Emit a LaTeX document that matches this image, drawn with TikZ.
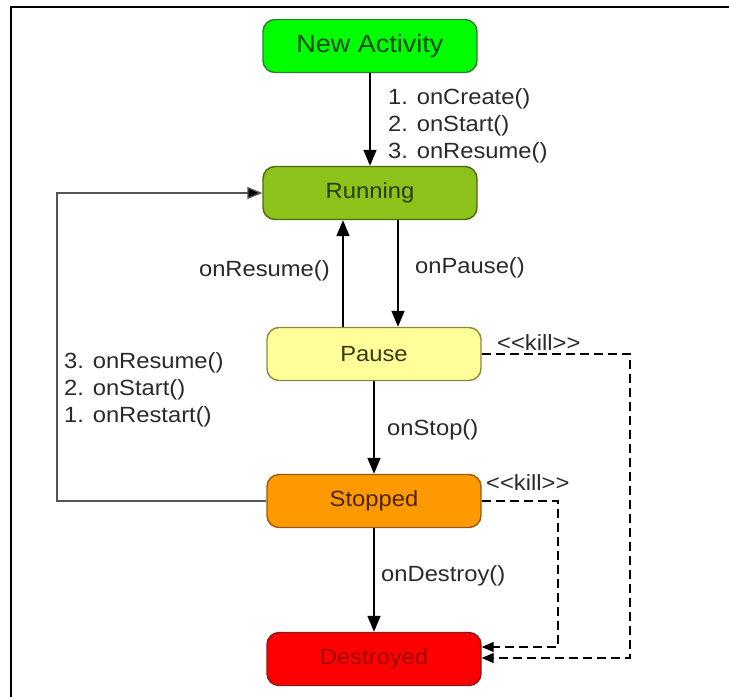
\documentclass[tikz,border=0pt]{standalone}
\usepackage{fontspec}
\setmainfont{Liberation Sans}[FakeStretch=1.08]
\usetikzlibrary{arrows.meta}
\definecolor{naFill}{HTML}{00FF00}
\definecolor{naDraw}{HTML}{2E7D2E}
\definecolor{naText}{HTML}{0E4A12}
\definecolor{ruFill}{HTML}{8CC21A}
\definecolor{ruDraw}{HTML}{4A6A10}
\definecolor{ruText}{HTML}{2A3A10}
\definecolor{paFill}{HTML}{FFFF99}
\definecolor{paDraw}{HTML}{8A8A40}
\definecolor{paText}{HTML}{3A3A10}
\definecolor{stFill}{HTML}{FF9900}
\definecolor{stDraw}{HTML}{9A5A10}
\definecolor{stText}{HTML}{4A2400}
\definecolor{deFill}{HTML}{FF0000}
\definecolor{deDraw}{HTML}{8A1A1A}
\definecolor{deText}{HTML}{A00000}
\definecolor{lblGray}{HTML}{2A2A2A}
\definecolor{loopGray}{HTML}{555555}
\begin{document}
\begin{tikzpicture}[x=1pt,y=-1pt,
  state/.style={draw, line width=1.4pt, rounded corners=12pt, minimum width=214pt, minimum height=53pt, inner sep=0pt, font=\fontsize{22}{26}\selectfont},
  lbl/.style={font=\fontsize{22}{27}\selectfont, text=lblGray, inner sep=0pt, align=left},
  arr/.style={line width=1.6pt, -{Triangle[length=16pt,width=13pt]}},
  killarr/.style={line width=1.2pt, dash pattern=on 9pt off 5pt, -{Triangle[length=12pt,width=10pt]}}
]
\fill[white] (0,0) rectangle (729,697);
\useasboundingbox (0,0) rectangle (729,697);
\draw[line width=2.2pt] (11,697) -- (11,7) -- (729,7);

\node[state, fill=naFill, draw=naDraw, text=naText, font=\fontsize{25}{30}\selectfont] (na) at (370,46) {New Activity};
\node[state, fill=ruFill, draw=ruDraw, text=ruText] (ru) at (370,193) {Running};
\node[state, fill=paFill, draw=paDraw, text=paText] (pa) at (374,354) {Pause};
\node[state, fill=stFill, draw=stDraw, text=stText] (st) at (374,501) {Stopped};
\node[state, fill=deFill, draw=deDraw, text=deText] (de) at (374,659) {Destroyed};

% New -> Running
\draw[arr] (na.south) -- (ru.north);
\node[lbl, anchor=west] (l1) at (388,125.5) {1. onCreate()\\2. onStart()\\3. onResume()};

% Running <-> Pause
\draw[arr] (ru.south -| 398,0) -- (pa.north -| 398,0);
\node[lbl, anchor=west] (l2) at (415,268) {onPause()};
\draw[arr] (pa.north -| 343,0) -- (ru.south -| 343,0);
\node[lbl, anchor=east] (l3) at (330,271) {onResume()};

% Pause -> Stopped
\draw[arr] (pa.south) -- (st.north);
\node[lbl, anchor=west] (l4) at (387,430) {onStop()};

% Stopped -> Destroyed
\draw[arr] (st.south) -- (de.north);
\node[lbl, anchor=west] (l5) at (381,576) {onDestroy()};

% Restart loop
\coordinate (c1) at (57,501);
\coordinate (c2) at (57,193);
\draw[loopGray, line width=1.4pt, -{Triangle[length=15pt,width=12pt,fill=black]}] (st.west) -- (c1) -- (c2) -- (ru.west);
\node[lbl, anchor=west] (l6) at (64,390) {3. onResume()\\2. onStart()\\1. onRestart()};

% kill paths
\coordinate (k1) at (630,354);
\coordinate (k2) at (630,658);
\draw[killarr] (pa.east) -- (k1) -- (k2) -- (de.east |- k2);
\node[lbl, anchor=west] (l7) at (497,343) {<{}<kill>{}>};
\coordinate (k3) at (558,501);
\coordinate (k4) at (558,647);
\draw[killarr] (st.east) -- (k3) -- (k4) -- (de.east |- k4);
\node[lbl, anchor=west] (l8) at (486,483) {<{}<kill>{}>};
\end{tikzpicture}
\end{document}
